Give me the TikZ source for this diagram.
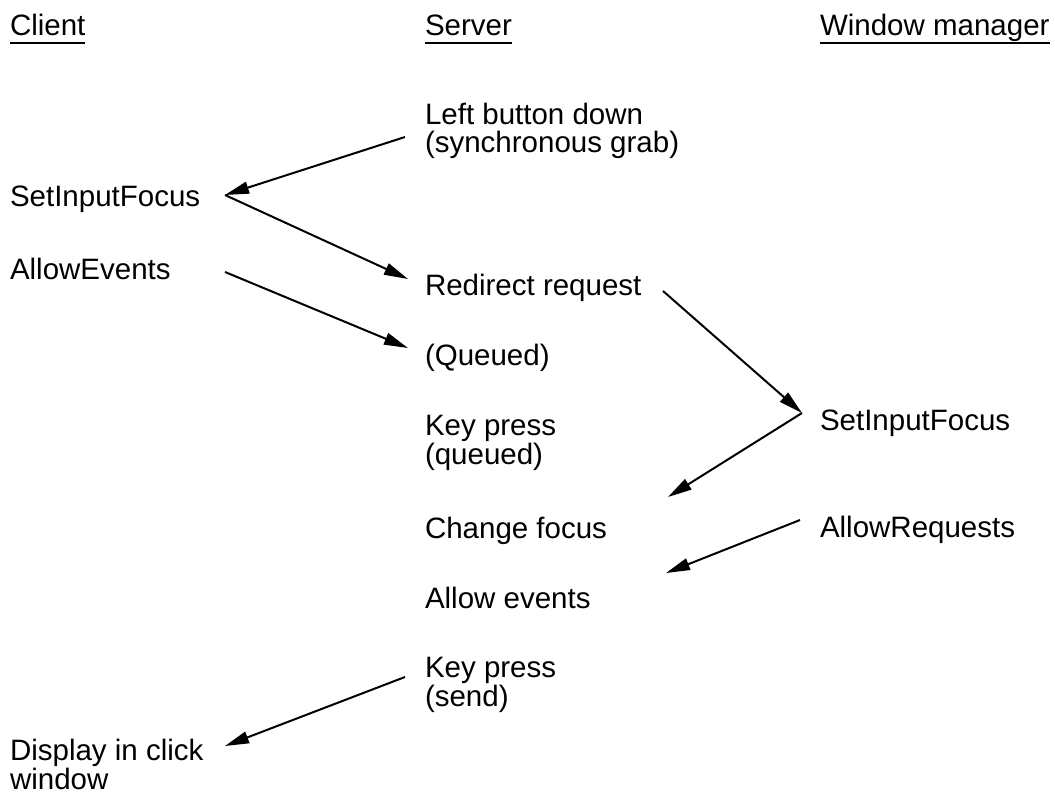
\documentclass[tikz,border=0pt]{standalone}
\usepackage{fontspec}
\setmainfont{Liberation Sans}
\usetikzlibrary{arrows.meta}
\begin{document}
\begin{tikzpicture}[x=1pt,y=-1pt,
  lbl/.style={inner sep=0pt,outer sep=0pt,anchor=base west,align=left,
    font=\fontsize{29.5}{28.5}\selectfont},
  uline/.style={line width=2pt},
  msg/.style={line width=2pt,-{Triangle[length=24pt,width=12pt]}}]
\useasboundingbox (0,0) rectangle (1055,794);
% headers
\node[lbl] (hc) at (10,36) {Client};
\node[lbl] (hs) at (425,36) {Server};
\node[lbl] (hw) at (820,36) {Window manager};
\foreach \h in {hc,hs,hw}
  \draw[uline] ([yshift=-7.5pt]\h.base west) -- ([yshift=-7.5pt]\h.base east);
% server column (two-line nodes are placed by their last baseline)
\node[lbl] (lbd) at (425,153) {Left button down\\(synchronous grab)};
\node[lbl] (rr) at (425,296) {Redirect request};
\node[lbl] (qd) at (425,366) {(Queued)};
\node[lbl] (kpq) at (425,464) {Key press\\(queued)};
\node[lbl] (cf) at (425,538) {Change focus};
\node[lbl] (ae) at (425,608) {Allow events};
\node[lbl] (kps) at (425,706) {Key press\\(send)};
% client column
\node[lbl] (csif) at (10,207) {SetInputFocus};
\node[lbl] (cae) at (10,280) {AllowEvents};
\node[lbl] (disp) at (10,789) {Display in click\\window};
% window manager column
\node[lbl] (wsif) at (820,430) {SetInputFocus};
\node[lbl] (war) at (820,537) {AllowRequests};
% connector end points
\coordinate (p1) at (405,137);
\coordinate (p2) at (225,195);
\coordinate (p3) at (408,279);
\coordinate (p4) at (225,272);
\coordinate (p5) at (408,348);
\coordinate (p6) at (663,291);
\coordinate (p7) at (802,413);
\coordinate (p8) at (668,497);
\coordinate (p9) at (800,520);
\coordinate (p10) at (666,573);
\coordinate (p11) at (405,677);
\coordinate (p12) at (225,746);
% messages
\draw[msg] (p1) -- (p2);
\draw[msg] (p2) -- (p3);
\draw[msg] (p4) -- (p5);
\draw[msg] (p6) -- (p7);
\draw[msg] (p7) -- (p8);
\draw[msg] (p9) -- (p10);
\draw[msg] (p11) -- (p12);
\end{tikzpicture}
\end{document}
